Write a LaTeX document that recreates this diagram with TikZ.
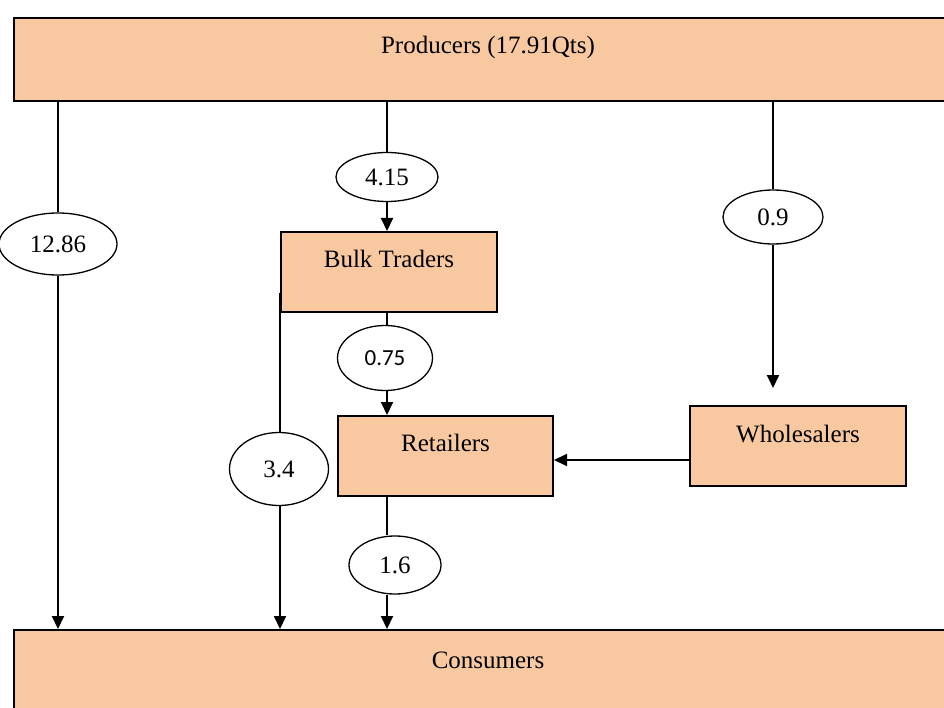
\documentclass[tikz,border=0pt]{standalone}
\usepackage{fontspec}
\setmainfont{Liberation Serif}
\newfontfamily\calfont{Carlito}
\usetikzlibrary{shapes.geometric,arrows.meta}
\definecolor{boxfill}{HTML}{F8C9A1}
\begin{document}
\begin{tikzpicture}[x=1pt,y=-1pt,
  box/.style={draw=black,line width=2pt,fill=boxfill,rectangle,inner sep=0pt,anchor=north west,
    font=\fontsize{25}{30}\selectfont},
  oval/.style={draw=black,line width=1.3pt,fill=white,ellipse,inner sep=0pt,
    font=\fontsize{25}{30}\selectfont},
  conn/.style={line width=2pt},
  arr/.style={line width=2pt,-{Triangle[length=13pt,width=12pt]}}]
\clip (0,0) rectangle (944,708);
% boxes
\node[box,minimum width=948pt,text height=36pt,text depth=47pt] (prod) at (13,17) {Producers (17.91Qts)};
\node[box,minimum width=216pt,text height=36pt,text depth=44pt] (bulk) at (280,231) {Bulk Traders};
\node[box,minimum width=215pt,text height=35pt,text depth=45pt] (ret) at (337,415) {Retailers};
\node[box,minimum width=216pt,text height=36pt,text depth=44pt] (who) at (689,405) {Wholesalers};
\node[box,minimum width=948pt,text height=38pt,text depth=50pt] (cons) at (13,629) {Consumers};
% ellipses
\node[oval,minimum width=118pt,minimum height=62pt] (e1) at (58,244) {12.86};
\node[oval,minimum width=102pt,minimum height=49pt] (e2) at (387,177) {4.15};
\node[oval,minimum width=100pt,minimum height=54pt] (e3) at (773,217) {0.9};
\node[oval,minimum width=95pt,minimum height=65pt,font=\calfont\fontsize{23}{28}\selectfont] (e4) at (385,358) {0.75};
\node[oval,minimum width=99pt,minimum height=73pt] (e5) at (279,469) {3.4};
\node[oval,minimum width=92pt,minimum height=58pt] (e6) at (395,565) {1.6};
\coordinate (wtip) at (773,388);
% connectors
\draw[conn] (prod.south -| e1) -- (e1.north);
\draw[arr] (e1.south) -- (cons.north -| e1);
\draw[conn] (prod.south -| e2) -- (e2.north);
\draw[arr] (e2.south) -- (bulk.north -| e2);
\draw[conn] (prod.south -| e3) -- (e3.north);
\draw[arr] (e3.south) -- (wtip);
\draw[conn] ([yshift=-62pt]bulk.north west) -- (e5.north -| bulk.west);
\draw[arr] (e5.south -| bulk.west) -- (cons.north -| bulk.west);
\draw[conn] (bulk.south -| e2) -- (e4.north -| e2);
\draw[arr] (e4.south -| e2) -- (ret.north -| e2);
\draw[arr] ([yshift=-14pt]who.west) -- ([yshift=-14pt]who.west -| ret.east);
\draw[conn] (ret.south -| e2) -- (e6.north -| e2);
\draw[arr] (e6.south -| e2) -- (cons.north -| e2);
\end{tikzpicture}
\end{document}
